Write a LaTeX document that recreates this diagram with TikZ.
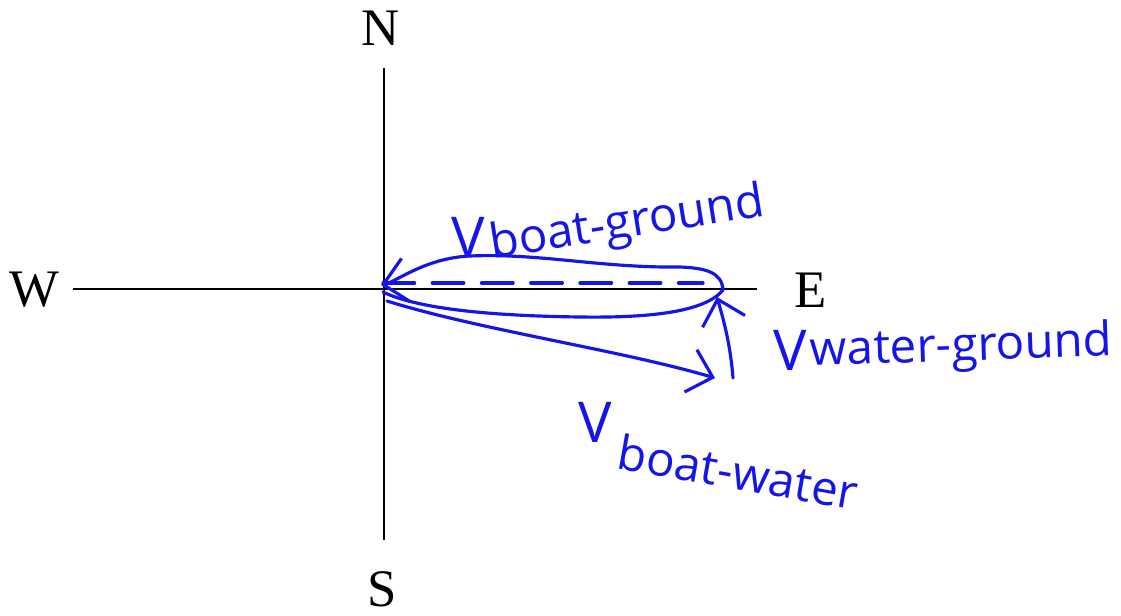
\documentclass[tikz,border=0pt]{standalone}
\usepackage{fontspec}
\setmainfont{Liberation Serif}
\newfontfamily\handfont{Open Sans}
\usetikzlibrary{arrows.meta}
\definecolor{penblue}{RGB}{20, 20, 235}

\tikzset{
  axisline/.style={black, line width=0.45pt},
  compass/.style={font=\fontsize{15}{18}\selectfont, inner sep=0pt},
  pen/.style={penblue, line width=0.9pt, line cap=round, line join=round},
  barbhead/.style={-{Straight Barb[length=2.3mm, width=4.4mm]}},
  bigv/.style={penblue, font=\handfont\fontsize{16}{18}\selectfont, inner sep=0pt},
  handtext/.style={penblue, font=\handfont\fontsize{13.5}{15}\selectfont, inner sep=0pt},
}

\begin{document}
\begin{tikzpicture}[x=0.01cm, y=-0.01cm]
  \useasboundingbox (0,0) rectangle (1121,615);

  % compass axes
  \coordinate (ntop) at (384,68);
  \coordinate (sbot) at (384,540);
  \coordinate (wend) at (73,289);
  \coordinate (eend) at (757,289);
  \draw[axisline] (ntop) -- (sbot);
  \draw[axisline] (wend) -- (eend);

  \node[compass] (north) at (381,28) {N};
  \node[compass] (south) at (382,589) {S};
  \node[compass] (west) at (34,290) {W};
  \node[compass] (east) at (811,290) {E};

  % boat-ground: dashed vector with the loop round it
  \coordinate (dashL) at (383,283);
  \coordinate (dashR) at (703,283);
  \draw[pen, dash pattern=on 9pt off 5pt] (dashL) -- (dashR);

  \coordinate (loopL) at (381,285);
  \coordinate (loopR) at (723,290);
  \draw[pen, barbhead] (loopR) .. controls (722,272) and (705,268) .. (680,267)
    .. controls (600,268) and (540,253) .. (470,256)
    .. controls (425,258) and (396,282) .. (loopL);
  \draw[pen] (383,292) .. controls (420,310) and (500,316) .. (580,317)
    .. controls (650,318) and (705,312) .. (loopR);

  % boat-water and water-ground vectors
  \coordinate (bwstart) at (387,301);
  \coordinate (bwtip) at (715,378);
  \coordinate (wgtail) at (733,378);
  \coordinate (wgtip) at (717,297);
  \draw[pen, barbhead] (bwstart) .. controls (480,330) and (620,350) .. (bwtip);
  \draw[pen, barbhead] (wgtail) .. controls (730,340) and (722,315) .. (wgtip);

  % labels
  \node[bigv] (vbg) at (468,237) {V};
  \node[handtext, anchor=base west, rotate=9] (bg) at (492,259) {boat-ground};
  \node[bigv] (vwg) at (790,350) {V};
  \node[handtext, anchor=base west, rotate=2] (wg) at (810,366) {water-ground};
  \node[bigv] (vbw) at (595,422) {V};
  \node[handtext, anchor=base west, rotate=-10] (bw) at (615,468) {boat-water};
\end{tikzpicture}
\end{document}
